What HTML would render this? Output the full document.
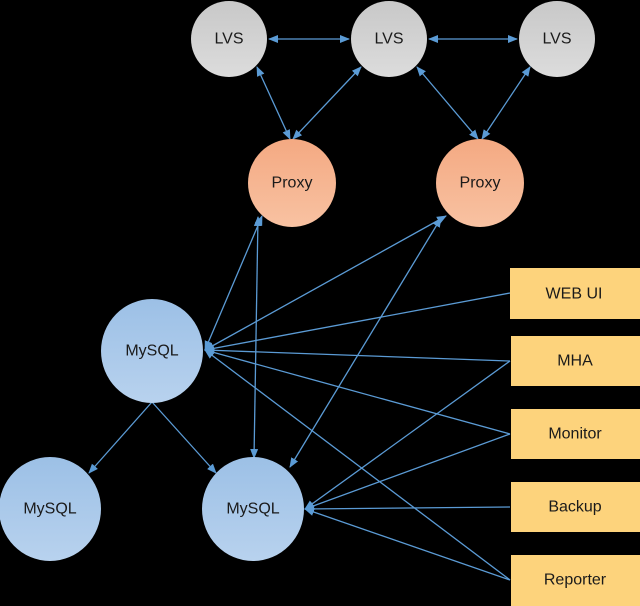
<!DOCTYPE html>
<html><head><meta charset="utf-8"><style>
html,body{margin:0;padding:0;background:#000;}
svg{display:block;}
text{font-family:"Liberation Sans",sans-serif;font-size:16px;fill:#1a1a1a;text-anchor:middle;dominant-baseline:central;}
</style></head><body>
<svg width="640" height="606" viewBox="0 0 640 606" xmlns="http://www.w3.org/2000/svg">
<defs>
<marker id="a" markerWidth="10" markerHeight="10" refX="9" refY="5" orient="auto-start-reverse" markerUnits="userSpaceOnUse">
<path d="M0,1 L10,5 L0,9 Z" fill="#5b9bd5"/></marker>
<linearGradient id="g" x1="0" y1="0" x2="0" y2="1"><stop offset="0" stop-color="#c8c8c8"/><stop offset="1" stop-color="#dcdcdc"/></linearGradient>
<linearGradient id="p" x1="0" y1="0" x2="0" y2="1"><stop offset="0" stop-color="#f4a982"/><stop offset="1" stop-color="#f8c2a2"/></linearGradient>
<linearGradient id="m" x1="0" y1="0" x2="0" y2="1"><stop offset="0" stop-color="#9cc0e6"/><stop offset="1" stop-color="#b8d2ee"/></linearGradient>
</defs>
<g stroke="#5b9bd5" stroke-width="1.3" fill="none">
<line x1="269" y1="39" x2="349" y2="39" marker-start="url(#a)" marker-end="url(#a)"/>
<line x1="429" y1="39" x2="517" y2="39" marker-start="url(#a)" marker-end="url(#a)"/>
<line x1="257" y1="67" x2="290" y2="139" marker-start="url(#a)" marker-end="url(#a)"/>
<line x1="361" y1="67" x2="293" y2="139" marker-start="url(#a)" marker-end="url(#a)"/>
<line x1="417" y1="67" x2="478" y2="139" marker-start="url(#a)" marker-end="url(#a)"/>
<line x1="530" y1="67" x2="482" y2="139" marker-start="url(#a)" marker-end="url(#a)"/>
<line x1="262" y1="216" x2="205" y2="350" marker-start="url(#a)" marker-end="url(#a)"/>
<line x1="258" y1="217" x2="254" y2="458" marker-start="url(#a)" marker-end="url(#a)"/>
<line x1="446" y1="216" x2="205" y2="350" marker-start="url(#a)" marker-end="url(#a)"/>
<line x1="441" y1="218" x2="290" y2="467" marker-start="url(#a)" marker-end="url(#a)"/>
<line x1="152" y1="402" x2="89" y2="473" marker-end="url(#a)"/>
<line x1="152" y1="402" x2="216" y2="473" marker-end="url(#a)"/>
<line x1="510" y1="293" x2="205" y2="350" marker-end="url(#a)"/>
<line x1="510" y1="361" x2="205" y2="350" marker-end="url(#a)"/>
<line x1="510" y1="361" x2="305" y2="509" marker-end="url(#a)"/>
<line x1="510" y1="434" x2="205" y2="350" marker-end="url(#a)"/>
<line x1="510" y1="434" x2="305" y2="509" marker-end="url(#a)"/>
<line x1="510" y1="507" x2="305" y2="509" marker-end="url(#a)"/>
<line x1="510" y1="580" x2="205" y2="350" marker-end="url(#a)"/>
<line x1="510" y1="580" x2="305" y2="509" marker-end="url(#a)"/>
</g>
<circle cx="229" cy="39" r="38" fill="url(#g)"/>
<circle cx="389" cy="39" r="38" fill="url(#g)"/>
<circle cx="557" cy="39" r="38" fill="url(#g)"/>
<text x="229" y="39">LVS</text><text x="389" y="39">LVS</text><text x="557" y="39">LVS</text>
<circle cx="292" cy="183" r="44" fill="url(#p)"/>
<circle cx="480" cy="183" r="44" fill="url(#p)"/>
<text x="292" y="183">Proxy</text><text x="480" y="183">Proxy</text>
<ellipse cx="152" cy="351" rx="51" ry="52" fill="url(#m)"/>
<ellipse cx="50" cy="509" rx="51" ry="52" fill="url(#m)"/>
<ellipse cx="253" cy="509" rx="51" ry="52" fill="url(#m)"/>
<text x="152" y="351">MySQL</text><text x="50" y="509">MySQL</text><text x="253" y="509">MySQL</text>
<g fill="#fdd37c">
<rect x="510" y="268" width="130" height="51"/>
<rect x="511" y="336" width="129" height="50"/>
<rect x="511" y="409" width="129" height="50"/>
<rect x="511" y="482" width="129" height="50"/>
<rect x="511" y="555" width="129" height="51"/>
</g>
<text x="574" y="294">WEB UI</text>
<text x="575" y="361">MHA</text>
<text x="575" y="434">Monitor</text>
<text x="575" y="507">Backup</text>
<text x="575" y="580">Reporter</text>
</svg>
</body></html>
